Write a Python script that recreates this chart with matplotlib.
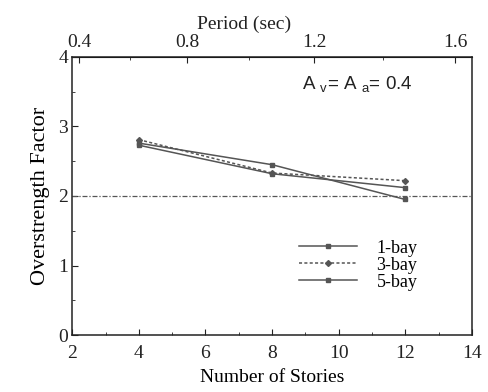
import matplotlib
matplotlib.use("Agg")
import matplotlib.pyplot as plt
from matplotlib.ticker import MultipleLocator, FixedLocator, FormatStrFormatter
import numpy as np

plt.rcParams["font.family"] = ["Liberation Serif", "DejaVu Serif"]
plt.rcParams["mathtext.fontset"] = "custom"
plt.rcParams["mathtext.rm"] = "Liberation Sans"

stories = [4, 8, 12]
one_bay = [2.76, 2.45, 1.95]
three_bay = [2.81, 2.33, 2.22]
five_bay = [2.73, 2.32, 2.12]
reference_level = 2.0
period_ticks = [0.4, 0.8, 1.2, 1.6]
period_minor = [0.6, 1.0, 1.4]

# approximate period-stories relation of the top axis
def to_period(n):
    return 0.219 * np.abs(n) ** 0.764

def to_stories(t):
    return (np.abs(t) / 0.219) ** (1 / 0.764)

gray = "#555555"
ink = "#222222"
fs = 14
fig = plt.figure(figsize=(4.88, 3.92), dpi=100)
ax = fig.add_axes([0.148, 0.145, 0.819, 0.71])

ax.axhline(reference_level, color=gray, lw=0.9, ls=(0, (4, 1.5, 1, 1.5)))
ax.plot(stories, one_bay, color=gray, lw=1.1, marker="s", ms=3.5, label="1-bay")
ax.plot(stories, three_bay, color=gray, lw=1.1, ls=(0, (2, 1.5)), marker="D", ms=3,
        label="3-bay")
ax.plot(stories, five_bay, color=gray, lw=1.1, marker="s", ms=3.5, label="5-bay")

ax.set_xlim(2, 14)
ax.set_ylim(0, 4)
ax.xaxis.set_major_locator(MultipleLocator(2))
ax.xaxis.set_minor_locator(MultipleLocator(1))
ax.yaxis.set_major_locator(MultipleLocator(1))
ax.yaxis.set_minor_locator(MultipleLocator(0.5))
ax.tick_params(which="both", direction="in", top=False, right=False, labelsize=fs,
               colors=ink)
ax.tick_params(which="major", length=4)
ax.tick_params(which="minor", length=2.5)
ax.tick_params(axis="x", pad=7)
ax.tick_params(axis="y", pad=3)
for s in ax.spines.values():
    s.set_color(ink)
    s.set_linewidth(1.1)

ax.set_xlabel("Number of Stories", fontsize=fs, labelpad=5)
ax.set_ylabel("Overstrength Factor", fontsize=16, labelpad=6)

top = ax.secondary_xaxis("top", functions=(to_period, to_stories))
top.xaxis.set_major_locator(FixedLocator(period_ticks))
top.xaxis.set_minor_locator(FixedLocator(period_minor))
top.xaxis.set_major_formatter(FormatStrFormatter("%.1f"))
top.tick_params(which="both", direction="in", labelsize=fs, colors=ink, pad=4)
top.tick_params(which="major", length=4)
top.tick_params(which="minor", length=2.5)
ax.text(0.43, 1.118, "Period (sec)", transform=ax.transAxes, ha="center", va="center",
        fontsize=fs, color=ink)

ax.text(0.575, 0.9, r"A $_{\rm v}$= A $_{\rm a}$= 0.4", transform=ax.transAxes,
        ha="left", va="center", fontsize=13.5, color=ink, family="Liberation Sans")

ax.legend(loc="center left", bbox_to_anchor=(0.567, 0.252), frameon=False, fontsize=13,
          handlelength=3.2, labelspacing=0.0, handletextpad=1.1, borderpad=0,
          borderaxespad=0)

fig.savefig("out.png", dpi=100)
